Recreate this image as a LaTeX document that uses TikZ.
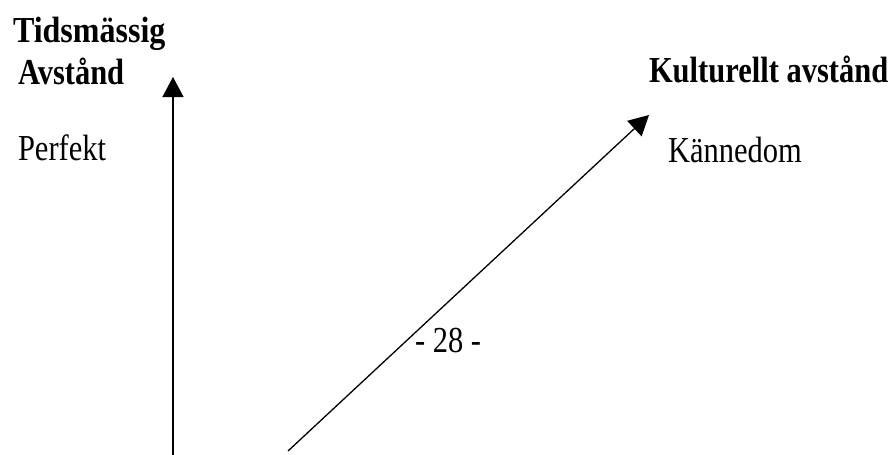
\documentclass[tikz,border=0pt]{standalone}
\usepackage{fontspec}
\setmainfont{Liberation Serif}
\usetikzlibrary{arrows.meta}
\tikzset{
  lbl/.style={anchor=base west, inner sep=0pt, outer sep=0pt, font=\fontsize{30.5}{30}\selectfont},
  blbl/.style={lbl, font=\fontsize{30.5}{30}\selectfont\bfseries},
  axis/.style={line width=1.3pt, -{Triangle[length=20pt,width=21pt]}}
}
\newcommand{\vs}[1]{\scalebox{1}[1.2]{#1}}
\begin{document}
\begin{tikzpicture}[x=1pt,y=-1pt]
\useasboundingbox (0,0) rectangle (889,455);
\node[blbl] (tids) at (13,42) {\scalebox{1.05}[1.2]{Tidsmässig}};
\node[blbl] (avst) at (18,84) {\vs{Avstånd}};
\node[blbl] (kult) at (649,82) {\vs{Kulturellt avstånd}};
\node[lbl] (perf) at (18,160) {\vs{Perfekt}};
\node[lbl] (kann) at (668,162) {\vs{Kännedom}};
\node[lbl] (page) at (415,352) {\vs{- 28 -}};
\coordinate (v0) at (173,456);
\coordinate (v1) at (173,77);
\coordinate (d0) at (288,451);
\coordinate (d1) at (649,115);
\draw[axis] (v0) -- (v1);
\draw[axis] (d0) -- (d1);
\end{tikzpicture}
\end{document}
